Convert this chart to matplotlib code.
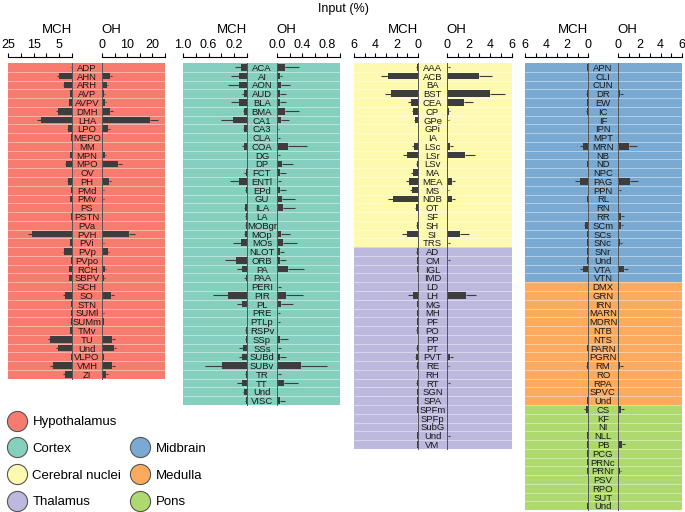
import matplotlib
matplotlib.use("Agg")
import matplotlib.pyplot as plt
from matplotlib.lines import Line2D
import numpy as np

plt.rcParams['font.family'] = ['Liberation Sans', 'DejaVu Sans']

# ---- data (percent of input) ----
hyp_names = ['ADP', 'AHN', 'ARH', 'AVP', 'AVPV', 'DMH', 'LHA', 'LPO', 'MEPO', 'MM', 'MPN', 'MPO',
             'OV', 'PH', 'PMd', 'PMv', 'PS', 'PSTN', 'PVa', 'PVH', 'PVi', 'PVp', 'PVpo', 'RCH',
             'SBPV', 'SCH', 'SO', 'STN', 'SUMl', 'SUMm', 'TMv', 'TU', 'Und', 'VLPO', 'VMH', 'ZI']
hyp_mch = [0.1, 4.9, 3.0, 0.7, 1.0, 5.3, 12.2, 1.7, 0.3, 0, 0.6, 2.2, 0, 1.7, 0.3, 0.6, 0, 0.3,
           0.1, 15.5, 0.6, 3.0, 0.4, 1.0, 1.0, 0.1, 2.9, 0.3, 0.3, 0.5, 0.6, 8.6, 5.5, 0.4, 7.6, 2.9]
hyp_mch_err = [0.1, 0.8, 0.5, 0.2, 0.3, 0.9, 1.3, 0.4, 0.1, 0, 0.2, 0.5, 0, 0.3, 0.1, 0.2, 0, 0.1,
               0.05, 1.6, 0.2, 0.5, 0.1, 0.3, 0.3, 0.05, 0.6, 0.1, 0.1, 0.2, 0.2, 0.9, 0.8, 0.1, 0.9, 0.5]
hyp_oh = [0.1, 3.0, 2.0, 0.9, 1.3, 3.0, 19.1, 2.2, 0.3, 0, 1.3, 6.2, 0, 2.9, 0.4, 0.4, 0, 0.2,
          0.1, 10.9, 0.4, 2.2, 0.3, 1.3, 0.9, 0.1, 3.7, 0.3, 0.4, 0.6, 0.3, 3.9, 4.6, 0.6, 3.9, 1.7]
hyp_oh_err = [0.05, 0.9, 0.5, 0.3, 0.4, 1.3, 3.3, 0.8, 0.1, 0, 0.4, 1.7, 0, 0.6, 0.2, 0.2, 0, 0.1,
              0.05, 2.2, 0.2, 0.5, 0.1, 0.4, 0.3, 0.05, 1.2, 0.1, 0.2, 0.2, 0.1, 1.3, 0.8, 0.2, 1.3, 0.6]

ctx_names = ['ACA', 'AI', 'AON', 'AUD', 'BLA', 'BMA', 'CA1', 'CA3', 'CLA', 'COA', 'DG', 'DP', 'FCT',
             'ENTl', 'EPd', 'GU', 'ILA', 'LA', 'MOBgr', 'MOp', 'MOs', 'NLOT', 'ORB', 'PA', 'PAA',
             'PERI', 'PIR', 'PL', 'PRE', 'PTLp', 'RSPv', 'SSp', 'SSs', 'SUBd', 'SUBv', 'TR', 'TT',
             'Und', 'VISC']
ctx_mch = [0.09, 0.12, 0.13, 0.05, 0.12, 0.04, 0.22, 0.04, 0, 0.05, 0, 0, 0.02, 0.13, 0.02, 0, 0.03,
           0.02, 0.02, 0.03, 0.09, 0, 0.17, 0.08, 0.02, 0, 0.30, 0.08, 0, 0, 0.02, 0.02, 0.07, 0.08,
           0.39, 0.02, 0.08, 0.04, 0.02]
ctx_mch_err = [0.10, 0.13, 0.16, 0.03, 0.13, 0.02, 0.18, 0.02, 0, 0.03, 0, 0, 0.02, 0.14, 0.01, 0,
               0.02, 0.01, 0.01, 0.02, 0.13, 0, 0.18, 0.07, 0.02, 0, 0.23, 0.07, 0, 0, 0.01, 0.01,
               0.05, 0.05, 0.27, 0.01, 0.07, 0.02, 0.01]
ctx_oh = [0.12, 0.04, 0.06, 0.05, 0.05, 0.12, 0.07, 0.01, 0.01, 0.18, 0.01, 0.08, 0.04, 0.01, 0.04,
          0.08, 0.09, 0, 0, 0.07, 0.09, 0.04, 0.05, 0.17, 0, 0.01, 0.15, 0.07, 0.01, 0.01, 0, 0.05,
          0.01, 0.04, 0.38, 0.01, 0.11, 0, 0.04]
ctx_oh_err = [0.23, 0.04, 0.15, 0.10, 0.10, 0.23, 0.12, 0.02, 0.03, 0.29, 0.03, 0.18, 0.10, 0.05,
              0.10, 0.20, 0.20, 0, 0, 0.14, 0.22, 0.07, 0.10, 0.26, 0, 0.06, 0.26, 0.18, 0.03, 0.04,
              0, 0.12, 0.06, 0.10, 0.42, 0.05, 0.22, 0, 0.08]

cnu_names = ['AAA', 'ACB', 'BA', 'BST', 'CEA', 'CP', 'GPe', 'GPi', 'IA', 'LSc', 'LSr', 'LSv', 'MA',
             'MEA', 'MS', 'NDB', 'OT', 'SF', 'SH', 'SI', 'TRS']
cnu_mch = [0.1, 2.8, 0, 2.5, 0.7, 0.45, 0.3, 0, 0, 0.4, 1.0, 0.1, 0.5, 0.8, 0.55, 2.3, 0.15, 0, 0.1, 1.0, 0]
cnu_mch_err = [0.05, 0.7, 0, 0.6, 0.2, 0.1, 0.1, 0, 0, 0.2, 0.4, 0.05, 0.2, 0.3, 0.2, 0.5, 0.1, 0,
               0.05, 0.5, 0]
cnu_oh = [0.1, 3.0, 0.05, 4.0, 1.6, 0.15, 0.1, 0.05, 0, 0.3, 1.7, 0.05, 0.05, 0.45, 0.1, 0.45, 0.05,
          0.05, 0.05, 1.2, 0.05]
cnu_oh_err = [0.2, 1.2, 0.05, 1.4, 0.8, 0.1, 0.1, 0.05, 0, 0.3, 0.9, 0.05, 0.05, 0.3, 0.05, 0.3, 0.05,
              0.05, 0.05, 0.8, 0.2]

th_names = ['AD', 'CM', 'IGL', 'IMD', 'LD', 'LH', 'MG', 'MH', 'PF', 'PO', 'PP', 'PT', 'PVT', 'RE',
            'RH', 'RT', 'SGN', 'SPA', 'SPFm', 'SPFp', 'SubG', 'Und', 'VM']
th_mch = [0.1, 0.05, 0.05, 0, 0, 0.5, 0.05, 0.05, 0.05, 0.1, 0, 0.1, 0.15, 0.1, 0, 0.1, 0.05, 0.05,
          0.05, 0, 0, 0.05, 0.05]
th_mch_err = [0.1, 0.05, 0.05, 0, 0, 0.4, 0.05, 0.05, 0.05, 0.05, 0, 0.1, 0.15, 0.1, 0, 0.1, 0.05,
              0.05, 0.05, 0, 0, 0.05, 0.05]
th_oh = [0, 0.05, 0.05, 0.05, 0, 1.75, 0.05, 0.05, 0, 0, 0.05, 0.05, 0.3, 0.1, 0.05, 0.05, 0, 0.05,
         0, 0.05, 0.05, 0.1, 0.05]
th_oh_err = [0, 0.2, 0.05, 0.05, 0, 0.9, 0.05, 0.05, 0, 0, 0.05, 0.05, 0.3, 0.1, 0.05, 0.2, 0, 0.05,
             0, 0.05, 0.05, 0.2, 0.05]

mb_names = ['APN', 'CLI', 'CUN', 'DR', 'EW', 'IC', 'IF', 'IPN', 'MPT', 'MRN', 'NB', 'ND', 'NPC',
            'PAG', 'PPN', 'RL', 'RN', 'RR', 'SCm', 'SCs', 'SNc', 'SNr', 'Und', 'VTA', 'VTN']
mb_mch = [0.05, 0, 0, 0.1, 0.05, 0.05, 0, 0, 0, 0.5, 0, 0.05, 0, 0.8, 0, 0.05, 0, 0, 0.25, 0.05,
          0.05, 0.05, 0.05, 0.5, 0]
mb_mch_err = [0.05, 0, 0, 0.1, 0.05, 0.1, 0, 0, 0, 0.3, 0, 0.05, 0, 0.4, 0, 0.05, 0, 0, 0.15, 0.05,
              0.05, 0.05, 0.05, 0.3, 0]
mb_oh = [0.05, 0.05, 0, 0.2, 0.05, 0, 0, 0, 0.05, 1.05, 0.05, 0, 0.05, 1.1, 0.1, 0, 0, 0.25, 0.25,
         0.05, 0.15, 0.05, 0, 0.55, 0.05]
mb_oh_err = [0.05, 0.05, 0, 0.3, 0.05, 0, 0, 0, 0.05, 0.7, 0.05, 0, 0.05, 0.8, 0.15, 0, 0, 0.3, 0.2,
             0.05, 0.2, 0.05, 0, 0.4, 0.05]

my_names = ['DMX', 'GRN', 'IRN', 'MARN', 'MDRN', 'NTB', 'NTS', 'PARN', 'PGRN', 'RM', 'RO', 'RPA',
            'SPVC', 'Und']
my_mch = [0, 0, 0, 0, 0, 0, 0, 0.05, 0, 0.05, 0, 0, 0, 0.05]
my_mch_err = [0, 0, 0, 0, 0, 0, 0, 0.05, 0, 0.1, 0, 0, 0, 0.05]
my_oh = [0.05, 0.05, 0.05, 0.05, 0.05, 0.05, 0.05, 0.05, 0.05, 0.2, 0.05, 0.05, 0.05, 0.05]
my_oh_err = [0.05, 0.05, 0.05, 0.05, 0.05, 0.05, 0.05, 0.05, 0.05, 0.3, 0.05, 0.05, 0.05, 0.05]

p_names = ['CS', 'KF', 'NI', 'NLL', 'PB', 'PCG', 'PRNc', 'PRNr', 'PSV', 'RPO', 'SUT', 'Und']
p_mch = [0.2, 0, 0, 0.05, 0.05, 0.05, 0.05, 0.05, 0, 0, 0, 0.05]
p_mch_err = [0.15, 0, 0, 0.05, 0.05, 0.05, 0.05, 0.05, 0, 0, 0, 0.05]
p_oh = [0.3, 0.05, 0, 0.05, 0.4, 0.05, 0.05, 0.15, 0.05, 0, 0, 0]
p_oh_err = [0.3, 0.05, 0, 0.05, 0.3, 0.05, 0.05, 0.15, 0.05, 0, 0, 0]

colors = {'Hypothalamus': '#F77B6E', 'Cortex': '#85CFBE', 'Cerebral nuclei': '#FDF9AF',
          'Thalamus': '#BDB8DD', 'Midbrain': '#7AA9D2', 'Medulla': '#FBAA5E', 'Pons': '#ADD96E'}
BAR = '#3d3d3d'

W, H = 685, 512
TOP = 63
ROW = 8.77

fig = plt.figure(figsize=(W / 100, H / 100), dpi=100)


def rect(x0, y0, x1, y1):
    return [x0 / W, 1 - y1 / H, (x1 - x0) / W, (y1 - y0) / H]


def style_top(ax, ticks, labels):
    for s in ['bottom', 'left', 'right']:
        ax.spines[s].set_visible(False)
    ax.spines['top'].set_position(('outward', 4.5))
    ax.spines['top'].set_linewidth(0.8)
    ax.xaxis.tick_top()
    ax.set_xticks(ticks)
    ax.set_xticklabels(labels)
    ax.tick_params(axis='x', length=3, width=0.8, pad=1.5, labelsize=9)
    ax.set_yticks([])
    ax.patch.set_alpha(0)


def draw_panel(edges, groups, mch_max, mch_ticks, mch_labels, oh_max, oh_ticks, oh_labels):
    x0, zm, zo, x1 = edges
    names, mch, mch_err, oh, oh_err = [], [], [], [], []
    for g in groups:
        names += g[1]; mch += g[2]; mch_err += g[3]; oh += g[4]; oh_err += g[5]
    n = len(names)
    y = np.arange(n)
    y1 = TOP + n * ROW

    bg = fig.add_axes(rect(x0, TOP, x1, y1))
    bg.set_xlim(0, 1)
    bg.set_ylim(n - 0.5, -0.5)
    start = 0
    for g in groups:
        bg.axhspan(start - 0.5, start + len(g[1]) - 0.5, color=colors[g[0]], lw=0)
        start += len(g[1])
    for i in range(1, n):
        bg.axhline(i - 0.5, color='white', lw=0.6, alpha=0.5)
    bg.axis('off')
    cx = ((zm + zo) / 2 - x0) / (x1 - x0)
    for i, nm in enumerate(names):
        bg.text(cx, i, nm, ha='center', va='center_baseline', fontsize=6.8, color='#1a1a1a')

    ekw = dict(ecolor=BAR, elinewidth=0.8, capsize=0)
    zeros = np.zeros(n)

    axm = fig.add_axes(rect(x0, TOP, zm, y1))
    axm.barh(y, mch, height=0.75, color=BAR, xerr=[zeros, mch_err], error_kw=ekw)
    axm.axvline(0, color='#555555', lw=0.7, clip_on=False)
    axm.set_xlim(mch_max, 0)
    axm.set_ylim(n - 0.5, -0.5)
    style_top(axm, mch_ticks, mch_labels)

    axo = fig.add_axes(rect(zo, TOP, x1, y1))
    axo.barh(y, oh, height=0.75, color=BAR, xerr=[zeros, oh_err], error_kw=ekw)
    axo.axvline(0, color='#555555', lw=0.7, clip_on=False)
    axo.set_xlim(0, oh_max)
    axo.set_ylim(n - 0.5, -0.5)
    style_top(axo, oh_ticks, oh_labels)

    fig.text((zm - 15) / W, 1 - 30 / H, 'MCH', ha='center', va='center', fontsize=9.5)
    fig.text((zo + 9) / W, 1 - 30 / H, 'OH', ha='center', va='center', fontsize=9.5)


hyp = ('Hypothalamus', hyp_names, hyp_mch, hyp_mch_err, hyp_oh, hyp_oh_err)
ctx = ('Cortex', ctx_names, ctx_mch, ctx_mch_err, ctx_oh, ctx_oh_err)
cnu = ('Cerebral nuclei', cnu_names, cnu_mch, cnu_mch_err, cnu_oh, cnu_oh_err)
th = ('Thalamus', th_names, th_mch, th_mch_err, th_oh, th_oh_err)
mb = ('Midbrain', mb_names, mb_mch, mb_mch_err, mb_oh, mb_oh_err)
my = ('Medulla', my_names, my_mch, my_mch_err, my_oh, my_oh_err)
pons = ('Pons', p_names, p_mch, p_mch_err, p_oh, p_oh_err)

draw_panel((8, 72, 102, 165), [hyp],
           25, [25, 20, 15, 10, 5, 0], ['25', '', '15', '', '5', ''],
           25, [0, 5, 10, 15, 20, 25], ['0', '', '10', '', '20', ''])
draw_panel((183, 247, 277, 340), [ctx],
           1.0, [1.0, 0.8, 0.6, 0.4, 0.2, 0.0], ['1.0', '', '0.6', '', '0.2', ''],
           1.0, [0.0, 0.2, 0.4, 0.6, 0.8, 1.0], ['0.0', '', '0.4', '', '0.8', ''])
draw_panel((354, 418, 447, 512), [cnu, th],
           6, [6, 5, 4, 3, 2, 1, 0], ['6', '', '4', '', '2', '', '0'],
           6, [0, 1, 2, 3, 4, 5, 6], ['0', '', '2', '', '4', '', '6'])
draw_panel((525, 588, 618, 682), [mb, my, pons],
           6, [6, 5, 4, 3, 2, 1, 0], ['6', '', '4', '', '2', '', '0'],
           6, [0, 1, 2, 3, 4, 5, 6], ['0', '', '2', '', '4', '', '6'])

fig.text(343 / W, 1 - 9 / H, 'Input (%)', ha='center', va='center', fontsize=9)

# legend
order = ['Hypothalamus', 'Cortex', 'Cerebral nuclei', 'Thalamus', None, 'Midbrain', 'Medulla', 'Pons']
handles, labels = [], []
for name in order:
    if name is None:
        handles.append(Line2D([], [], linestyle='none', marker='none'))
        labels.append('')
    else:
        handles.append(Line2D([], [], linestyle='none', marker='o', markersize=14.5,
                              markerfacecolor=colors[name], markeredgecolor='#555555',
                              markeredgewidth=0.8))
        labels.append(name)
fig.legend(handles, labels, ncol=2, loc='upper left', bbox_to_anchor=(6 / W, 1 - 416 / H),
           frameon=False, fontsize=9.5, handlelength=1.6, handletextpad=0.4,
           labelspacing=1.1, columnspacing=0.6, borderpad=0, borderaxespad=0)

fig.savefig('out.png', dpi=100)
